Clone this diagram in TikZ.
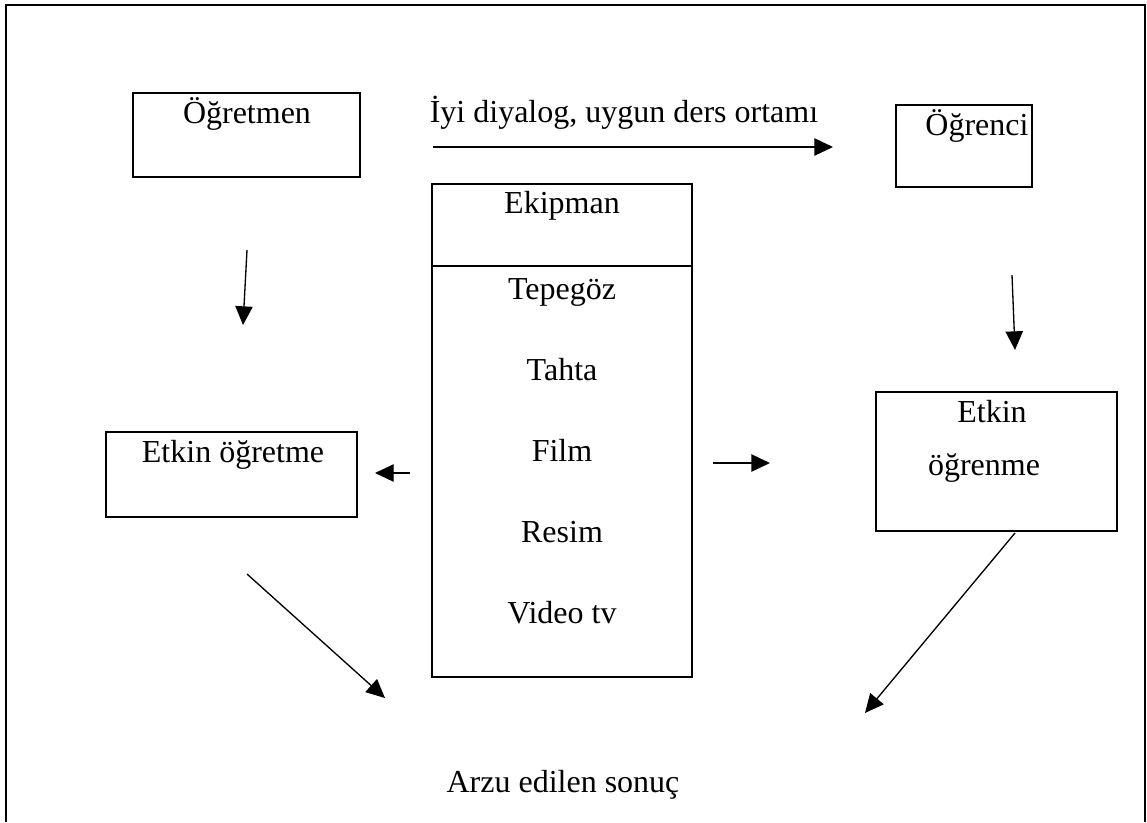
\documentclass[tikz,border=0pt]{standalone}
\usepackage{fontspec}
\setmainfont{Liberation Serif}
\usetikzlibrary{arrows.meta,fit}
\tikzstyle{kutu}=[draw, line width=1.5pt, inner sep=0pt]
\tikzstyle{metin}=[anchor=base, inner sep=0pt, font=\fontsize{24}{28}\selectfont]
\tikzstyle{ok}=[-{Triangle[length=14pt,width=13pt]}, line width=1pt]

\begin{document}
\begin{tikzpicture}[x=0.75pt,y=-0.75pt]
\useasboundingbox (0,0) rectangle (1147,822);
% dis cerceve
\draw[line width=2.2pt] (6,822) -- (6,5) -- (1145,5) -- (1145,822);

% kutular
\node (ogretmen) [kutu, fit={(133,93) (360,177)}] {};
\node (ogrenci) [kutu, fit={(896,105) (1032,187)}] {};
\node (ekipman) [kutu, fit={(432,184) (692,266)}] {};
\node (araclar) [kutu, fit={(432,266) (692,677)}] {};
\node (ogretme) [kutu, fit={(106,432) (357,517)}] {};
\node (ogrenme) [kutu, fit={(876,392) (1117,531)}] {};

% yazilar
\node (ogretmenyazi) [metin] at (247,123) {Öğretmen};
\node (ogrenciyazi) [metin] at (977,135) {Öğrenci};
\node (diyalog) [metin] at (624,122) {İyi diyalog, uygun ders ortamı};
\node (ekipmanyazi) [metin] at (562,213) {Ekipman};
\foreach \arac [count=\i] in {Tepegöz,Tahta,Film,Resim,Video tv}
    \node (arac\i) [metin] at (562,219+80.8*\i) {\arac};
\node (ogretmeyazi) [metin] at (233,462) {Etkin öğretme};
\node (ogrenmeyazi1) [metin] at (992,422) {Etkin};
\node (ogrenmeyazi2) [metin] at (984,475) {öğrenme};
\node (sonuc) [metin] at (563,792) {Arzu edilen sonuç};

% oklar
\coordinate (d1) at (433,147);  \coordinate (d2) at (833,147);
\coordinate (a1) at (247,250);  \coordinate (a2) at (243,325);
\coordinate (b1) at (1012,275); \coordinate (b2) at (1015,350);
\coordinate (s1) at (410,473);  \coordinate (s2) at (375,473);
\coordinate (r1) at (713,463);  \coordinate (r2) at (770,463);
\coordinate (c1) at (247,574);  \coordinate (c2) at (385,698);
\coordinate (e1) at (1015,533); \coordinate (e2) at (865,713);

\draw[ok] (d1) -- (d2);
\draw[ok] (a1) -- (a2);
\draw[ok] (b1) -- (b2);
\draw[ok] (s1) -- (s2);
\draw[ok] (r1) -- (r2);
\draw[ok] (c1) -- (c2);
\draw[ok] (e1) -- (e2);
\end{tikzpicture}
\end{document}
